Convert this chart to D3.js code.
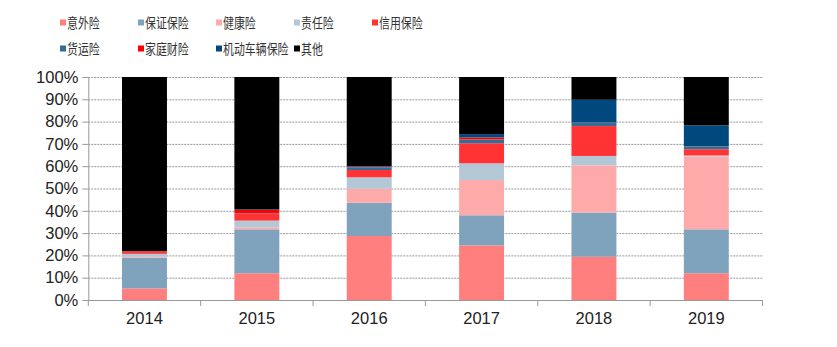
<!DOCTYPE html>
<html><head><meta charset="utf-8">
<script src="https://cdn.jsdelivr.net/npm/d3@7"></script>
<style>body{margin:0;background:#fff}svg{display:block}</style>
</head><body>
<svg id="c" width="837" height="347"></svg>
<script>
const years = ["2014","2015","2016","2017","2018","2019"];
const seriesNames = ["意外险","保证保险","健康险","责任险","信用保险","货运险","家庭财险","机动车辆保险","其他"];
const seriesColors = ["#ff7f7f","#7fa3bd","#ffaaaa","#b3c7d6","#ff3333","#336e99","#ff0000","#00497e","#000000"];
const yiwai   = [5.2, 12.0, 28.7, 24.5, 19.4, 12.0];
const baozheng= [13.8, 19.7, 14.9, 13.5, 19.8, 19.7];
const jiankang= [0.4, 0.9, 6.3, 15.8, 21.2, 32.6];
const zeren   = [1.3, 3.0, 5.1, 7.5, 4.2, 0.5];
const xinyong = [0.8, 3.0, 3.3, 9.0, 13.4, 2.8];
const huoyun  = [0.1, 0.3, 1.2, 1.7, 1.5, 1.2];
const jiating = [0.3, 1.5, 0.3, 0.9, 0.1, 0.1];
const jidong  = [0.1, 0.2, 0.3, 1.5, 10.2, 9.4];
const qita    = [78.0, 59.4, 39.9, 25.6, 10.2, 21.7];
const yTicks = [0,10,20,30,40,50,60,70,80,90,100];

const values = [yiwai,baozheng,jiankang,zeren,xinyong,huoyun,jiating,jidong,qita];
const rows = years.map((y,i)=>{const r={year:y}; seriesNames.forEach((s,k)=>r[s]=values[k][i]); return r;});
const stack = d3.stack().keys(seriesNames).offset(d3.stackOffsetExpand)(rows);

const svg = d3.select("#c");
const L=88.3, R=762.5, T=77, B=300;
const x = d3.scaleBand().domain(years).range([L,R]).paddingInner(0.6).paddingOuter(0.3);
const y = d3.scaleLinear().domain([0,1]).range([B,T]);

// gridlines
svg.append("g").selectAll("line").data(yTicks.filter(t=>t>0)).join("line")
  .attr("x1",L).attr("x2",R).attr("y1",d=>y(d/100)+0.5).attr("y2",d=>y(d/100)+0.5)
  .attr("stroke","#999").attr("stroke-width",1).attr("stroke-dasharray","2,1");

// bars
svg.append("g").selectAll("g").data(stack).join("g").attr("fill",(d,i)=>seriesColors[i])
  .selectAll("rect").data(d=>d).join("rect")
  .attr("x",d=>x(d.data.year)).attr("width",x.bandwidth())
  .attr("y",d=>y(d[1])).attr("height",d=>Math.max(0,y(d[0])-y(d[1])));

// y axis
const yAxis = svg.append("g").attr("transform",`translate(${L},0)`)
  .call(d3.axisLeft(y).tickValues(yTicks.map(t=>t/100)).tickFormat(d=>Math.round(d*100)+"%").tickSize(6).tickSizeOuter(0));
yAxis.select(".domain").attr("stroke","#999");
yAxis.selectAll(".tick line").attr("stroke","#999");
yAxis.selectAll("text").attr("font-family","Liberation Sans, Arial, sans-serif").attr("font-size","16.5px").attr("fill","#222").attr("x",-10);

// x axis
const xAxis = svg.append("g").attr("transform",`translate(0,${B})`)
  .call(d3.axisBottom(x).tickSize(0).tickSizeOuter(0));
xAxis.select(".domain").attr("stroke","#999").attr("d",`M${L},0.5H${R}`);
xAxis.selectAll("text").attr("font-family","Liberation Sans, Arial, sans-serif").attr("font-size","16.5px").attr("fill","#222").attr("dy","1.25em");
const bounds = years.map(yy=>x(yy)-x.step()*x.paddingInner()/2).concat([R]);
xAxis.append("g").selectAll("line").data(bounds).join("line")
  .attr("x1",d=>d).attr("x2",d=>d).attr("y1",0).attr("y2",6).attr("stroke","#999");

// legend
const leg = svg.append("g");
seriesNames.forEach((s,i)=>{
  const col = i<5 ? i : i-5, row = i<5 ? 0 : 1;
  const gx = 60 + col*78, gy = 23 + row*26;
  leg.append("rect").attr("x",gx).attr("y",gy-3.5).attr("width",6).attr("height",6).attr("fill",seriesColors[i]);
  leg.append("text").attr("transform",`translate(${gx+7},${gy}) scale(0.78,1)`).attr("dy","0.36em")
    .attr("font-family","Noto Sans CJK SC, sans-serif").attr("font-size","14px").attr("fill","#333")
    .text(s);
});
</script>
</body></html>
